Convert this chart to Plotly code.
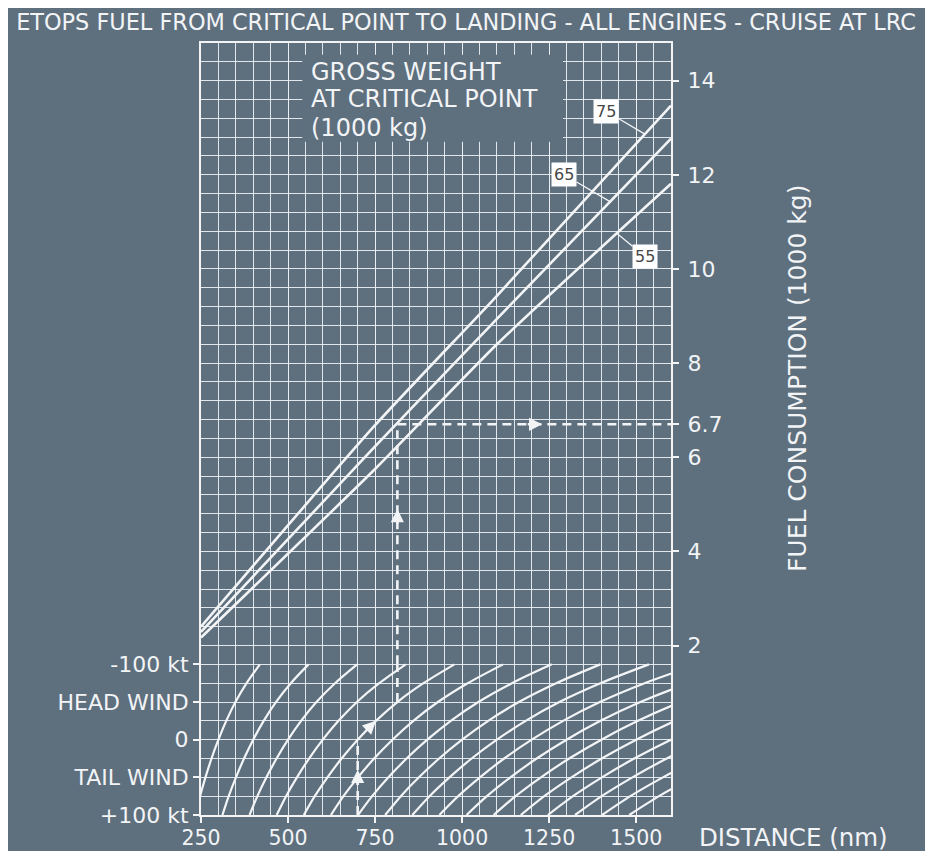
import plotly.graph_objects as go

# ---------------- data ----------------
# Fuel from critical point to landing (1000 kg) vs air distance (nm), per gross weight
DIST_NM = [250, 750, 1100, 1600]
WEIGHT_LABELS = ["75", "65", "55"]
FUEL_75 = [2.40, 6.68, 9.43, 13.47]
FUEL_65 = [2.29, 6.23, 8.94, 12.77]
FUEL_55 = [2.17, 5.75, 8.40, 11.81]
LABEL_ANCHOR_NM = [1525, 1425, 1445]      # where each label's leader touches its line

# Wind correction guide lines: ratio air distance / ground distance at each wind
WIND_KT = [-100, -75, -50, -25, 0, 25, 50, 75, 100]
DIST_RATIO = [1.397, 1.270, 1.163, 1.075, 1.0, 0.934, 0.876, 0.824, 0.779]
REF_DIST_NM = [300, 400, 500, 600, 700, 800, 900, 1000, 1100, 1200,
               1300, 1400, 1500, 1600, 1700, 1800, 1900]

# Worked example
EX_GROUND_NM = 700
EX_WIND_KT = -50
EX_AIR_NM = 814
EX_FUEL = 6.7

# Axis ticks
X_TICKS = [250, 500, 750, 1000, 1250, 1500]
FUEL_TICKS = [2, 4, 6, 6.7, 8, 10, 12, 14]
FUEL_TICK_TEXT = ["2", "4", "6", "6.7", "8", "10", "12", "14"]
WIND_TICKS = [-100, -50, 0, 50, 100]
WIND_TICK_TEXT = ["-100 kt", "HEAD WIND", "0", "TAIL WIND", "+100 kt"]

# ---------------- styling ----------------
BG = "#5e6f7e"
FG = "#f2f4f6"
GRID = "rgba(236,240,244,0.92)"
FONT = "DejaVu Sans"

fig = go.Figure()

# invisible trace to anchor the grid axis
fig.add_trace(go.Scatter(x=[250, 1600], y=[-1.6, 14.8], mode="markers",
                         marker=dict(opacity=0), hoverinfo="skip", xaxis="x", yaxis="y"))

# wind guide curves
for d in REF_DIST_NM:
    fig.add_trace(go.Scatter(
        x=[d * r for r in DIST_RATIO], y=WIND_KT, mode="lines",
        line=dict(color=FG, width=2.2, shape="spline", smoothing=0.8),
        hoverinfo="skip", xaxis="x", yaxis="y2"))

# gross-weight fuel lines
for fuel in (FUEL_75, FUEL_65, FUEL_55):
    fig.add_trace(go.Scatter(
        x=DIST_NM, y=fuel, mode="lines",
        line=dict(color=FG, width=2.6, shape="spline", smoothing=0.6),
        hoverinfo="skip", xaxis="x", yaxis="y3"))

DASH = dict(color=FG, width=2.6, dash="9px,6px")
# example: ground distance up to zero wind
fig.add_trace(go.Scatter(x=[EX_GROUND_NM, EX_GROUND_NM], y=[WIND_TICKS[-1], 0], mode="lines",
                         line=DASH, hoverinfo="skip", xaxis="x", yaxis="y2"))
# example: from wind value up to the fuel line
fig.add_trace(go.Scatter(x=[EX_AIR_NM, EX_AIR_NM], y=[EX_WIND_KT, WIND_TICKS[0]], mode="lines",
                         line=DASH, hoverinfo="skip", xaxis="x", yaxis="y2"))
fig.add_trace(go.Scatter(x=[EX_AIR_NM, EX_AIR_NM], y=[1.6, EX_FUEL], mode="lines",
                         line=DASH, hoverinfo="skip", xaxis="x", yaxis="y3"))
# example: across to the fuel scale
fig.add_trace(go.Scatter(x=[EX_AIR_NM, 1600], y=[EX_FUEL, EX_FUEL], mode="lines",
                         line=DASH, hoverinfo="skip", xaxis="x", yaxis="y3"))

annotations = []
# arrowheads of the example
arrow_common = dict(text="", showarrow=True, arrowhead=2, arrowsize=1.1, arrowwidth=2.4,
                    arrowcolor=FG, xref="x")
annotations.append(dict(x=EX_GROUND_NM, y=40, yref="y2", ax=0, ay=16, **arrow_common))
annotations.append(dict(x=EX_GROUND_NM * DIST_RATIO[3], y=WIND_KT[3], yref="y2", ax=-11, ay=11,
                        **arrow_common))
annotations.append(dict(x=EX_AIR_NM, y=4.9, yref="y3", ax=0, ay=16, **arrow_common))
annotations.append(dict(x=1230, y=EX_FUEL, yref="y3", ax=-16, ay=0, **arrow_common))

# weight labels in white boxes
label_offsets = [(-39, -23), (-46, -27), (28, 23)]
for lab, fuel, anc, (ax, ay) in zip(WEIGHT_LABELS, (FUEL_75, FUEL_65, FUEL_55),
                                    LABEL_ANCHOR_NM, label_offsets):
    yv = fuel[-1]
    for i in range(len(DIST_NM) - 1):
        if DIST_NM[i] <= anc <= DIST_NM[i + 1]:
            t = (anc - DIST_NM[i]) / (DIST_NM[i + 1] - DIST_NM[i])
            yv = fuel[i] + t * (fuel[i + 1] - fuel[i])
    annotations.append(dict(
        x=anc, y=yv, xref="x", yref="y3", text=lab, showarrow=True, arrowhead=0,
        arrowwidth=1.3, arrowcolor=FG, ax=ax, ay=ay, bgcolor="#ffffff", borderpad=2,
        font=dict(family=FONT, size=16, color="#474747")))

# gross weight caption
for txt, yp in (("GROSS WEIGHT", 0.9624), ("AT CRITICAL POINT", 0.9275), ("(1000 kg)", 0.8899)):
    annotations.append(dict(x=0.2298, y=yp, xref="paper", yref="paper", text=txt,
                            showarrow=False, xanchor="left", yanchor="middle",
                            font=dict(family=FONT, size=24, color=FG)))

# axis captions
annotations.append(dict(x=1.0553, y=-0.0285, xref="paper", yref="paper", text="DISTANCE (nm)",
                        showarrow=False, xanchor="left", yanchor="middle",
                        font=dict(family=FONT, size=24.5, color=FG)))
annotations.append(dict(x=1.268, y=0.566, xref="paper", yref="paper",
                        text="FUEL CONSUMPTION (1000 kg)", textangle=-90,
                        showarrow=False, xanchor="center", yanchor="middle",
                        font=dict(family=FONT, size=25, color=FG)))

fig.update_layout(
    width=933, height=851,
    margin=dict(l=193, r=270, t=35, b=44, autoexpand=False),
    paper_bgcolor=BG, plot_bgcolor=BG,
    showlegend=False,
    font=dict(family=FONT, color=FG, size=22),
    title=dict(text="ETOPS FUEL FROM CRITICAL POINT TO LANDING - ALL ENGINES - CRUISE AT LRC",
               x=0.4909, xanchor="center", y=1 - 14 / 851, yanchor="middle",
               xref="container", yref="container",
               font=dict(family=FONT, size=22.4, color=FG)),
    xaxis=dict(range=[250, 1600], tickvals=X_TICKS, ticks="outside", ticklen=6, tickwidth=1.5,
               tickcolor=FG, showgrid=True, gridcolor=GRID, gridwidth=1.4, automargin=False,
               minor=dict(tick0=250, dtick=50, showgrid=True, gridcolor=GRID, gridwidth=1.4,
                          ticks=""),
               showline=True, mirror=True, linecolor=FG, linewidth=2, zeroline=False,
               ticklabelstandoff=-3,
               tickfont=dict(family=FONT, size=20.5, color=FG)),
    yaxis=dict(range=[-1.6, 14.8], tick0=-1.6, dtick=0.4, showticklabels=False, ticks="",
               showgrid=True, gridcolor=GRID, gridwidth=1.4, showline=True, mirror=True,
               linecolor=FG, linewidth=2, zeroline=False, automargin=False),
    yaxis2=dict(overlaying="y", side="left", range=[100, -925], tickvals=WIND_TICKS,
                ticktext=WIND_TICK_TEXT, ticks="outside", ticklen=7, tickwidth=1.5,
                tickcolor=FG, showgrid=False, zeroline=False, showline=False, automargin=False,
                tickfont=dict(family=FONT, size=22, color=FG)),
    yaxis3=dict(overlaying="y", side="right", range=[-1.6, 14.8], tickvals=FUEL_TICKS,
                ticktext=FUEL_TICK_TEXT, ticks="outside", ticklen=7, tickwidth=1.5,
                tickcolor=FG, showgrid=False, zeroline=False, showline=False, automargin=False,
                ticklabelstandoff=4,
                tickfont=dict(family=FONT, size=22, color=FG)),
    annotations=annotations,
    shapes=[dict(type="rect", xref="x", yref="y", x0=541, x1=1290, y0=12.7, y1=14.55,
                 fillcolor=BG, line=dict(width=0), layer="between")],
)

fig.write_html("out.html")
